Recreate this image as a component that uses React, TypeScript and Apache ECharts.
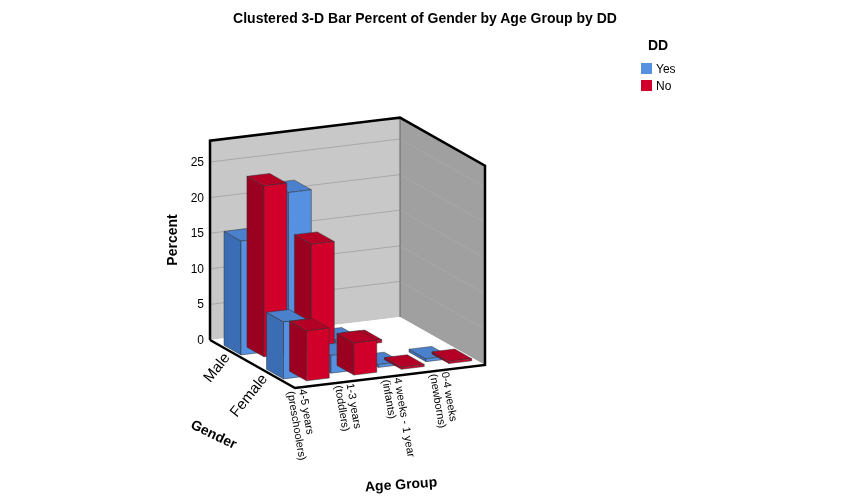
import { useEffect, useRef } from 'react';
import * as echarts from 'echarts';

const ageGroups = ['4-5 years\n(preschoolers)', '1-3 years\n(toddlers)', '4 weeks - 1 year\n(infants)', '0-4 weeks\n(newborns)'];
const genders = ['Female', 'Male'];
const ddLevels = ['Yes', 'No'];
// percent values [gender][age]
const yesValues = [
  [8, 2.5, 0.4, 0.4],
  [16, 22, 0.5, 0],
];
const noValues = [
  [7, 4.5, 0.3, 0.3],
  [24, 15, 0.4, 0],
];
const yTicks = [0, 5, 10, 15, 20, 25];

const colors = {
  Yes: { front: '#5591e0', side: '#3b6db5', top: '#4a80cc' },
  No: { front: '#d0002a', side: '#9a0020', top: '#b50025' },
};

// projection of the floor / height
const FL = [295, 388];
const FR = [485, 365];
const BL = [210, 340];
const K = 7.12;
const WALL = 28;

function P(u: number, v: number, h: number): number[] {
  return [
    FL[0] + u * (FR[0] - FL[0]) + v * (BL[0] - FL[0]),
    FL[1] + u * (FR[1] - FL[1]) + v * (BL[1] - FL[1]) - h * K,
  ];
}

export default function App() {
  const ref = useRef<HTMLDivElement>(null);

  useEffect(() => {
    if (!ref.current) return;
    const chart = echarts.init(ref.current, null, { renderer: 'svg' });

    // [age, gender, dd, value]
    const data: number[][] = [];
    genders.forEach((_, g) => {
      ageGroups.forEach((_, a) => {
        data.push([a, g, 0, yesValues[g][a]]);
        data.push([a, g, 1, noValues[g][a]]);
      });
    });
    const geom = (d: number[]) => {
      const u0 = d[0] * 0.25 + 0.02 + d[2] * 0.085;
      const v0 = (d[1] === 1 ? 0.6 : 0.1) + (d[2] === 0 ? 0.08 : 0);
      return { u0, u1: u0 + 0.12, v0, v1: v0 + 0.2 };
    };
    data.sort((a, b) => {
      const ga = geom(a), gb = geom(b);
      if (gb.v0 !== ga.v0) return gb.v0 - ga.v0;
      return gb.u0 - ga.u0;
    });
    const visible = data.filter((d) => d[3] > 0);

    const BR = P(1, 1, 0);
    const graphics: any[] = [
      { type: 'polygon', shape: { points: [P(0, 1, 0), BR, P(1, 1, WALL), P(0, 1, WALL)] }, style: { fill: '#c8c8c8' }, z: 0 },
      { type: 'polygon', shape: { points: [BR, P(1, 0, 0), P(1, 0, WALL), P(1, 1, WALL)] }, style: { fill: '#a0a0a0' }, z: 0 },
      { type: 'polygon', shape: { points: [FL, FR, BR, BL] }, style: { fill: '#ffffff' }, z: 0 },
    ];
    yTicks.forEach((t) => {
      if (t > 0) {
        graphics.push({ type: 'polyline', shape: { points: [P(0, 1, t), P(1, 1, t), P(1, 0, t)] }, style: { stroke: '#a8a8a8', lineWidth: 1 }, z: 1 });
      }
      const p = P(0, 1, t);
      graphics.push({ type: 'text', x: p[0] - 6, y: p[1], style: { text: String(t), fill: '#000', font: '12px Arial, Liberation Sans', align: 'right', verticalAlign: 'middle' }, z: 1 });
    });
    const edge = { stroke: '#000', lineWidth: 2.5 };
    graphics.push(
      { type: 'polyline', shape: { points: [P(0, 1, 0), P(0, 1, WALL), P(1, 1, WALL), P(1, 0, WALL), P(1, 0, 0), FL, P(0, 1, 0)] }, style: { ...edge, fill: null }, z: 2 },
      { type: 'line', shape: { x1: BR[0], y1: BR[1], x2: P(1, 1, WALL)[0], y2: P(1, 1, WALL)[1] }, style: { stroke: '#666', lineWidth: 1 }, z: 1 },
    );
    ageGroups.forEach((name, a) => {
      const p = P(a * 0.25 + 0.06, -0.03, 0);
      graphics.push({ type: 'text', x: p[0], y: p[1], rotation: -1.4, style: { text: name, fill: '#000', font: '11px Arial, Liberation Sans', align: 'left', verticalAlign: 'top', lineHeight: 12 }, z: 3 });
    });
    genders.forEach((name, g) => {
      const p = P(-0.04, g === 1 ? 0.72 : 0.28, 0);
      graphics.push({ type: 'text', x: p[0], y: p[1], rotation: 0.9, style: { text: name, fill: '#000', font: '15px Arial, Liberation Sans', align: 'right', verticalAlign: 'middle' }, z: 3 });
    });
    graphics.push(
      { type: 'text', x: 425, y: 18, style: { text: 'Clustered 3-D Bar Percent of Gender by Age Group by DD', fill: '#000', font: 'bold 14px Arial, Liberation Sans', align: 'center', verticalAlign: 'middle' } },
      { type: 'text', x: 172, y: 240, rotation: Math.PI / 2, style: { text: 'Percent', fill: '#000', font: 'bold 14px Arial, Liberation Sans', align: 'center', verticalAlign: 'middle' } },
      { type: 'text', x: 214, y: 434, rotation: -0.45, style: { text: 'Gender', fill: '#000', font: 'bold 14px Arial, Liberation Sans', align: 'center', verticalAlign: 'middle' } },
      { type: 'text', x: 401, y: 484, rotation: 0.07, style: { text: 'Age Group', fill: '#000', font: 'bold 14px Arial, Liberation Sans', align: 'center', verticalAlign: 'middle' } },
      { type: 'text', x: 658, y: 45, style: { text: 'DD', fill: '#000', font: 'bold 14px Arial, Liberation Sans', align: 'center', verticalAlign: 'middle' } },
    );
    ddLevels.forEach((name, i) => {
      const c = (colors as any)[name];
      graphics.push(
        { type: 'rect', shape: { x: 641, y: 63 + i * 17, width: 11, height: 11 }, style: { fill: c.front } },
        { type: 'text', x: 656, y: 69 + i * 17, style: { text: name, fill: '#000', font: '12px Arial, Liberation Sans', verticalAlign: 'middle' } },
      );
    });

    chart.setOption({
      animation: false,
      graphic: graphics,
      series: [
        {
          type: 'custom',
          coordinateSystem: 'none',
          z: 5,
          data: visible,
          renderItem: (params: any, api: any) => {
            const d = [api.value(0), api.value(1), api.value(2), api.value(3)];
            const { u0, u1, v0, v1 } = geom(d);
            const h = Math.max(d[3], 0.15);
            const c = (colors as any)[ddLevels[d[2]]];
            const st = { stroke: '#333', lineWidth: 0.5 };
            return {
              type: 'group',
              children: [
                { type: 'polygon', shape: { points: [P(u0, v0, 0), P(u0, v1, 0), P(u0, v1, h), P(u0, v0, h)] }, style: { ...st, fill: c.side } },
                { type: 'polygon', shape: { points: [P(u0, v0, h), P(u1, v0, h), P(u1, v1, h), P(u0, v1, h)] }, style: { ...st, fill: c.top } },
                { type: 'polygon', shape: { points: [P(u0, v0, 0), P(u1, v0, 0), P(u1, v0, h), P(u0, v0, h)] }, style: { ...st, fill: c.front } },
              ],
            };
          },
        },
      ],
    });
    return () => chart.dispose();
  }, []);

  return <div ref={ref} style={{ position: 'fixed', left: 0, top: 0, width: 851, height: 501 }} />;
}
